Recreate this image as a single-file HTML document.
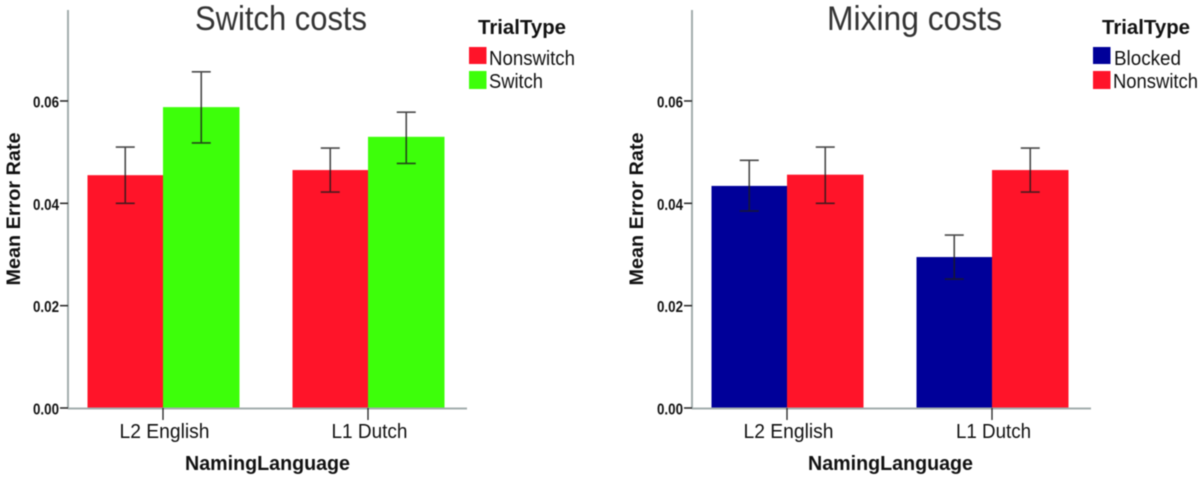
<!DOCTYPE html>
<html lang="en">
<head>
<meta charset="utf-8">
<title>Switch costs and Mixing costs</title>
<style>
html,body{margin:0;padding:0;background:#fff;width:1200px;height:478px;overflow:hidden}
svg{display:block;filter:blur(0.45px)}
text{font-family:"Liberation Sans",sans-serif;fill:#111}
</style>
</head>
<body>
<svg id="root" width="1200" height="478" viewBox="0 0 1200 478" xmlns="http://www.w3.org/2000/svg"></svg>
<script>
// ---- data ----
const categories = ['L2 English', 'L1 Dutch'];
const tickValues = [0, 0.02, 0.04, 0.06];
const tickLabels = ['0.00', '0.02', '0.04', '0.06'];

const switchSeriesNames = ['Nonswitch', 'Switch'];
const switchNonswitchMeans = [0.0455, 0.0465];
const switchNonswitchLow = [0.0400, 0.0422];
const switchNonswitchHigh = [0.0510, 0.0508];
const switchSwitchMeans = [0.0588, 0.0530];
const switchSwitchLow = [0.0518, 0.0478];
const switchSwitchHigh = [0.0657, 0.0578];

const mixingSeriesNames = ['Blocked', 'Nonswitch'];
const mixingBlockedMeans = [0.0434, 0.0295];
const mixingBlockedLow = [0.0385, 0.0252];
const mixingBlockedHigh = [0.0484, 0.0338];
const mixingNonswitchMeans = [0.0456, 0.0465];
const mixingNonswitchLow = [0.0400, 0.0422];
const mixingNonswitchHigh = [0.0510, 0.0508];

// ---- drawing ----
const NS = 'http://www.w3.org/2000/svg';
const root = document.getElementById('root');
const RED = '#ff1429', GREEN = '#3dff0a', BLUE = '#000099';
const AXIS = '#a3adad', INK = '#222';

const baseY = 408;
const pxPerUnit = 5117;
function yScale(v) { return baseY - v * pxPerUnit; }

function add(parent, tag, attrs, txt) {
  const el = document.createElementNS(NS, tag);
  for (const k in attrs) el.setAttribute(k, attrs[k]);
  if (txt !== undefined) el.textContent = txt;
  parent.appendChild(el);
  return el;
}

function drawChart(o) {
  const g = add(root, 'g', {});
  
  
  const ax = o.axisX;
  const barW = 75.5, groupStep = 205, firstCentre = ax + 95;
  function xCat(i) { return firstCentre + i * groupStep; }

  const title = add(g, 'text', {x: o.titleX, y: 30, 'font-size': 34, textLength: o.titleW, lengthAdjust: 'spacingAndGlyphs', style: 'fill:#333'}, o.title);
  
  

  // bars
  o.series.forEach(function (s, si) {
    categories.forEach(function (c, i) {
      const x = xCat(i) + (si === 0 ? -barW : 0);
      const top = yScale(s.means[i]);
      const bar = add(g, 'rect', {x: x, y: top, width: barW + (si === 1 ? 1 : 0), height: baseY - top, fill: s.color});
      
      
    });
  });

  // axes
  const yAxis = add(g, 'line', {x1: ax, y1: 10, x2: ax, y2: baseY + 1, stroke: AXIS, 'stroke-width': 2});
  
  
  const xAxis = add(g, 'line', {x1: ax, y1: baseY + 0.5, x2: ax + 399, y2: baseY + 0.5, stroke: AXIS, 'stroke-width': 2});
  
  

  // y ticks
  tickValues.forEach(function (v, i) {
    const y = yScale(v);
    const tick = add(g, 'line', {x1: ax - 8, y1: y, x2: ax, y2: y, stroke: INK, 'stroke-width': 1.5});
    
    
    const lab = add(g, 'text', {x: ax - 35, y: y + 6.5, 'font-size': 16, 'font-weight': 700, textLength: 26, lengthAdjust: 'spacingAndGlyphs'}, tickLabels[i]);
    
    
  });

  // x ticks and labels
  categories.forEach(function (c, i) {
    const x = xCat(i);
    const tick = add(g, 'line', {x1: x, y1: baseY, x2: x, y2: baseY + 12, stroke: INK, 'stroke-width': 1.3});
    
    
    const lab = add(g, 'text', {x: x + 1.5, y: 438, 'font-size': 20, 'text-anchor': 'middle', textLength: o.catW[i], lengthAdjust: 'spacingAndGlyphs'}, c);
    
    
  });

  // error bars
  o.series.forEach(function (s, si) {
    categories.forEach(function (c, i) {
      const cx = xCat(i) + (si === 0 ? -barW / 2 : barW / 2 + 0.5);
      const y1 = yScale(s.low[i]), y2 = yScale(s.high[i]);
      const eb = add(g, 'path', {d: 'M' + (cx - 9.5) + ' ' + y1 + 'H' + (cx + 9.5) + 'M' + (cx - 9.5) + ' ' + y2 + 'H' + (cx + 9.5) + 'M' + cx + ' ' + y1 + 'V' + y2, fill: 'none', stroke: '#1c1c1c', 'stroke-opacity': 0.8, 'stroke-width': 1.6});
      
      
    });
  });

  // axis titles
  const xt = add(g, 'text', {x: o.xTitleX, y: 470, 'font-size': 20, 'font-weight': 700, textLength: 165, lengthAdjust: 'spacingAndGlyphs'}, 'NamingLanguage');
  
  
  const yt = add(g, 'text', {x: 0, y: 0, 'font-size': 19, 'font-weight': 700, 'text-anchor': 'middle', textLength: 153, lengthAdjust: 'spacingAndGlyphs', transform: 'translate(' + o.yTitleX + ' 209) rotate(-90)'}, 'Mean Error Rate');
  
  

  // legend
  const lt = add(g, 'text', {x: o.legendTitleX, y: 34, 'font-size': 20, 'font-weight': 700, textLength: 88, lengthAdjust: 'spacingAndGlyphs'}, 'TrialType');
  
  
  o.series.forEach(function (s, si) {
    const sw = add(g, 'rect', {x: o.swatchX, y: 47 + si * 24, width: 17.5, height: si === 0 ? 17 : 18, fill: s.color});
    
    
    const lb = add(g, 'text', {x: o.labelX[si], y: 65 + si * 23, 'font-size': 20, textLength: o.labelW[si], lengthAdjust: 'spacingAndGlyphs'}, s.name);
    
    
  });
}

drawChart({
  slug: 'switch-costs', title: 'Switch costs', axisX: 68, titleX: 195, titleW: 172,
  catW: [90, 76], xTitleX: 185, yTitleX: 20, legendTitleX: 478, swatchX: 469,
  labelX: [489, 489], labelW: [86, 54],
  series: [
    {name: switchSeriesNames[0], color: RED, means: switchNonswitchMeans, low: switchNonswitchLow, high: switchNonswitchHigh},
    {name: switchSeriesNames[1], color: GREEN, means: switchSwitchMeans, low: switchSwitchLow, high: switchSwitchHigh}
  ]
});
drawChart({
  slug: 'mixing-costs', title: 'Mixing costs', axisX: 692, titleX: 827, titleW: 175,
  catW: [90, 75], xTitleX: 808, yTitleX: 643, legendTitleX: 1102, swatchX: 1093,
  labelX: [1114, 1113], labelW: [67, 85],
  series: [
    {name: mixingSeriesNames[0], color: BLUE, means: mixingBlockedMeans, low: mixingBlockedLow, high: mixingBlockedHigh},
    {name: mixingSeriesNames[1], color: RED, means: mixingNonswitchMeans, low: mixingNonswitchLow, high: mixingNonswitchHigh}
  ]
});
</script>
</body>
</html>
